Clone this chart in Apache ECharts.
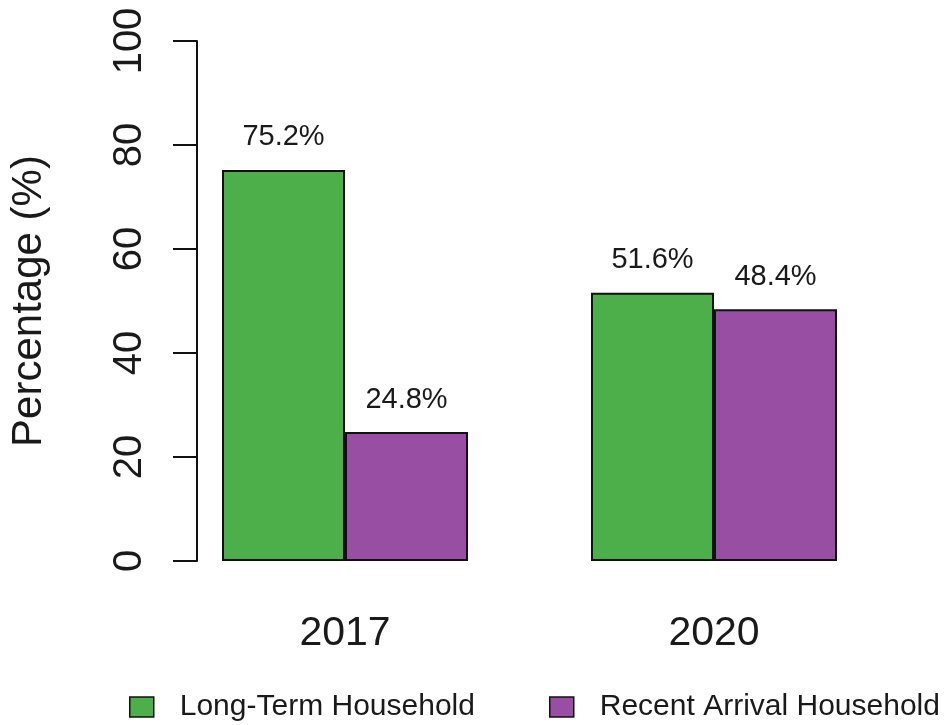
<!DOCTYPE html>
<html>
<head>
<meta charset="utf-8">
<script src="https://cdn.jsdelivr.net/npm/echarts@6/dist/echarts.min.js"></script>
<style>
html,body{margin:0;padding:0;background:#fff;}
#chart{width:948px;height:725px;}
</style>
</head>
<body>
<div id="chart"></div>
<script>
var categories = ['2017', '2020'];
var longTerm = [75.2, 51.6];
var recentArrival = [24.8, 48.4];
var seriesNames = ['Long-Term Household', 'Recent Arrival Household'];
var yTicks = [0, 20, 40, 60, 80, 100];

var FONT = '"Liberation Sans", Arial, sans-serif';
var GREEN = '#4DAF4A';
var PURPLE = '#984EA3';
var TEXT = '#1a1a1a';

var chart = echarts.init(document.getElementById('chart'));

function labelFmt(p) { return p.value.toFixed(1) + '%'; }

function legendFor(name, left) {
  return {
    data: [name],
    left: left, top: 692,
    padding: 0,
    itemWidth: 24, itemHeight: 20,
    icon: 'rect',
    itemStyle: { borderColor: '#111', borderWidth: 1.5 },
    textStyle: { fontSize: 30, color: TEXT, fontFamily: FONT, padding: [0, 0, 0, 21] }
  };
}

var option = {
  animation: false,
  backgroundColor: '#fff',
  textStyle: { fontFamily: FONT },
  grid: { left: 160.5, right: 49.5, top: 41, bottom: 164 },
  legend: [
    legendFor(seriesNames[0], 129),
    legendFor(seriesNames[1], 549)
  ],
  xAxis: {
    type: 'category',
    data: categories,
    axisLine: { show: false },
    axisTick: { show: false },
    axisLabel: { fontSize: 41, color: TEXT, fontFamily: FONT, margin: 52 },
    splitLine: { show: false }
  },
  yAxis: {
    type: 'value',
    min: yTicks[0],
    max: yTicks[yTicks.length - 1],
    interval: 20,
    offset: -36.5,
    name: 'Percentage (%)',
    nameLocation: 'middle',
    nameGap: 147,
    nameRotate: 90,
    nameTextStyle: { fontSize: 42, color: TEXT, fontFamily: FONT },
    axisLine: { show: true, lineStyle: { color: '#111', width: 2 } },
    axisTick: { show: true, length: 24, inside: false, lineStyle: { color: '#111', width: 2 } },
    axisLabel: { fontSize: 40, color: TEXT, fontFamily: FONT, rotate: 90, margin: 47 },
    splitLine: { show: false }
  },
  series: [
    {
      name: seriesNames[0],
      type: 'bar',
      data: longTerm,
      barWidth: 123,
      barGap: '0%',
      itemStyle: { color: GREEN, borderColor: '#111', borderWidth: 2 },
      label: { show: true, position: 'top', distance: 18, fontSize: 29, color: TEXT, fontFamily: FONT, formatter: labelFmt }
    },
    {
      name: seriesNames[1],
      type: 'bar',
      data: recentArrival,
      barWidth: 123,
      barGap: '0%',
      itemStyle: { color: PURPLE, borderColor: '#111', borderWidth: 2 },
      label: { show: true, position: 'top', distance: 18, fontSize: 29, color: TEXT, fontFamily: FONT, formatter: labelFmt }
    }
  ]
};
chart.setOption(option);
</script>
</body>
</html>
